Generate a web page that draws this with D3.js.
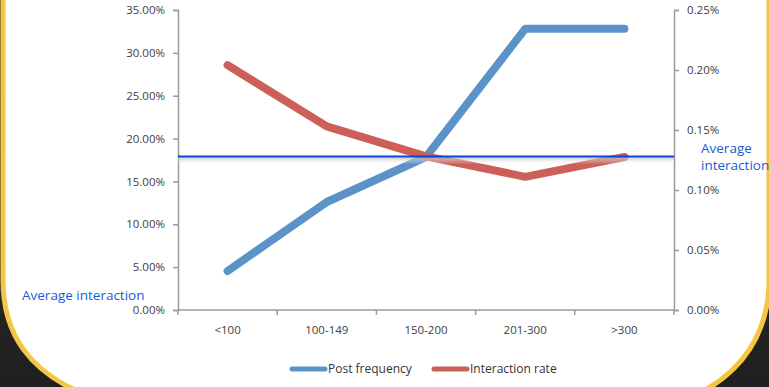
<!DOCTYPE html>
<html lang="en">
<head>
<meta charset="UTF-8">
<title>Post frequency vs interaction rate</title>
<script src="https://d3js.org/d3.v7.min.js"></script>
<style>
    body { margin: 0; background: #2a2a2a; }
    svg text { font-family: "Open Sans", sans-serif; }
    .tick text { font-size: 11.5px; fill: #404040; }
    .avg-label { font-size: 13.5px; fill: #1a5ad8; }
    .legend text { font-size: 12px; fill: #333; }
</style>
</head>
<body>
<div id="chart"></div>
<script>
// data
const categories = ['<100', '100-149', '150-200', '201-300', '>300'];
const postFrequency = [0.0455, 0.126, 0.1785, 0.328, 0.328];
const interactionRate = [0.00204, 0.00153, 0.00128, 0.00111, 0.001275];
const averageInteraction = 0.00128;
const leftTicks = [0, 0.05, 0.10, 0.15, 0.20, 0.25, 0.30, 0.35];
const rightTicks = [0, 0.0005, 0.0010, 0.0015, 0.0020, 0.0025];

const width = 769, height = 387;
const margin = {left: 178, right: 95, top: 10, bottom: 77};

const svg = d3.select('#chart').append('svg')
    .attr('width', width)
    .attr('height', height);

// dark backdrop with the white rounded panel and yellow frame
const defs = svg.append('defs');
const bg = defs.append('linearGradient').attr('id', 'bg')
    .attr('x1', 0).attr('y1', 0).attr('x2', 0).attr('y2', 1);
bg.append('stop').attr('offset', '0%').attr('stop-color', '#3a3a3a');
bg.append('stop').attr('offset', '100%').attr('stop-color', '#1f1f1f');
const shade = defs.append('linearGradient').attr('id', 'shade')
    .attr('x1', 0).attr('y1', 0).attr('x2', 0).attr('y2', 1);
shade.append('stop').attr('offset', '0%').attr('stop-color', '#bbb').attr('stop-opacity', 0.8);
shade.append('stop').attr('offset', '100%').attr('stop-color', '#fff').attr('stop-opacity', 0);

svg.append('rect').attr('width', width).attr('height', height).attr('fill', 'url(#bg)');
svg.append('path')
    .attr('d', 'M3,-10 L3,280 C3,330 25,375 100,400 L685,400 C745,375 769,330 769,280 L769,-10 Z')
    .attr('fill', '#fff')
    .attr('stroke', '#f5c544')
    .attr('stroke-width', 5);

const x = d3.scaleBand()
    .domain(categories)
    .range([margin.left, width - margin.right]);

const yLeft = d3.scaleLinear()
    .domain([0, 0.35])
    .range([height - margin.bottom, margin.top]);

const yRight = d3.scaleLinear()
    .domain([0, 0.0025])
    .range([height - margin.bottom, margin.top]);

// axes
const axisColor = '#9a9a9a';
function styleAxis(g) {
    g.selectAll('.domain').attr('stroke', axisColor).attr('stroke-width', 1.5);
    g.selectAll('.tick line').attr('stroke', axisColor).attr('stroke-width', 1.5);
}

svg.append('g')
    .attr('transform', `translate(${margin.left},0)`)
    .call(d3.axisLeft(yLeft).tickValues(leftTicks).tickFormat(d3.format('.2%'))
        .tickSizeInner(5).tickSizeOuter(5).tickPadding(8))
    .call(styleAxis);

svg.append('g')
    .attr('transform', `translate(${width - margin.right},0)`)
    .call(d3.axisRight(yRight).tickValues(rightTicks).tickFormat(d3.format('.2%'))
        .tickSizeInner(5).tickSizeOuter(5).tickPadding(8))
    .call(styleAxis);

const xAxis = svg.append('g')
    .attr('transform', `translate(0,${height - margin.bottom})`)
    .call(d3.axisBottom(x).tickSize(0).tickPadding(16))
    .call(styleAxis);
xAxis.select('.domain').attr('d', `M${margin.left},0H${width - margin.right}`);
// Excel style ticks between the categories
xAxis.selectAll('.sep')
    .data(d3.range(categories.length + 1))
    .enter().append('line')
    .attr('class', 'sep')
    .attr('x1', i => margin.left + i * x.step())
    .attr('x2', i => margin.left + i * x.step())
    .attr('y1', 0).attr('y2', 5)
    .attr('stroke', axisColor).attr('stroke-width', 1.5);

// series lines
const cx = d => x(d) + x.bandwidth() / 2;

svg.append('path')
    .datum(postFrequency)
    .attr('fill', 'none')
    .attr('stroke', '#5b93c9')
    .attr('stroke-width', 8)
    .attr('stroke-linecap', 'round')
    .attr('stroke-linejoin', 'round')
    .attr('d', d3.line().x((d, i) => cx(categories[i])).y(d => yLeft(d)));

svg.append('path')
    .datum(interactionRate)
    .attr('fill', 'none')
    .attr('stroke', '#cc5f58')
    .attr('stroke-width', 8)
    .attr('stroke-linecap', 'round')
    .attr('stroke-linejoin', 'round')
    .attr('d', d3.line().x((d, i) => cx(categories[i])).y(d => yRight(d)));

// average interaction line with its soft shadow
const avgY = yRight(averageInteraction);
svg.append('rect')
    .attr('x', margin.left)
    .attr('y', avgY + 1)
    .attr('width', width - margin.right - margin.left)
    .attr('height', 7)
    .attr('fill', 'url(#shade)');
svg.append('line')
    .attr('x1', margin.left).attr('x2', width - margin.right)
    .attr('y1', avgY).attr('y2', avgY)
    .attr('stroke', '#0a46d6')
    .attr('stroke-width', 2);

svg.append('text')
    .attr('class', 'avg-label')
    .attr('x', 22).attr('y', 300)
    .text('Average interaction');

const rightLabel = svg.append('text')
    .attr('class', 'avg-label')
    .attr('x', 701).attr('y', 153);
rightLabel.append('tspan').attr('x', 701).text('Average');
rightLabel.append('tspan').attr('x', 701).attr('dy', 17).text('interaction');

// legend
const legendItems = [
    {name: 'Post frequency', color: '#5b93c9', x: 292},
    {name: 'Interaction rate', color: '#cc5f58', x: 434}
];
const legend = svg.append('g').attr('class', 'legend');
legendItems.forEach(item => {
    legend.append('line')
        .attr('x1', item.x).attr('x2', item.x + 33)
        .attr('y1', 369).attr('y2', 369)
        .attr('stroke', item.color)
        .attr('stroke-width', 5)
        .attr('stroke-linecap', 'round');
    legend.append('text')
        .attr('x', item.x + 36).attr('y', 373)
        .text(item.name);
});
</script>
</body>
</html>
